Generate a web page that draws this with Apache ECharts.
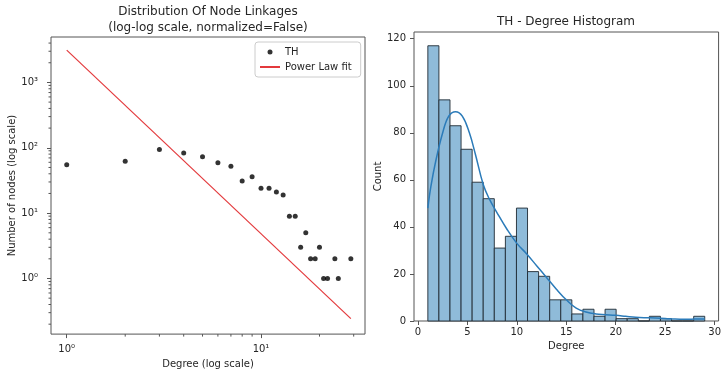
<!DOCTYPE html>
<html><head><meta charset="utf-8">
<script src="https://cdn.jsdelivr.net/npm/echarts@6/dist/echarts.min.js"></script>
<style>html,body{margin:0;padding:0;background:#fff}#c{width:724px;height:374px}</style>
</head><body><div id="c"></div>
<script>
// ---- data ----
const degrees    = [1,2,3,4,5,6,7,8,9,10,11,12,13,14,15,16,17,18,19,20,21,22,24,25,29];
const nodeCounts = [55,62,94,83,73,59,52,31,36,24,24,21,19,9,9,3,5,2,2,3,1,1,2,1,2];
const fitDegrees = [1, 29];
const fitCounts  = [3126, 0.243];
const histStart = 1;
const histBinWidth = 1.12;
const histCounts = [117,94,83,73,59,52,31,36,48,21,19,9,9,3,5,2,5,1,1,0,2,1,0,0,2];
const kdeX = [1,1.3,1.8,2.5,3.1,3.8,4.5,5.2,5.8,6.6,7.2,8,9,10,11,12,13,14,15,16,17,18,19,20,21,22,23,24,25,26,27,28,29];
const kdeY = [48,57,68,80,87,89,87,80,71,58,52,46,39,33,28.5,23.5,18.5,13.5,9,5.5,3.8,3,2.7,2.4,2,1.6,1.4,1.3,1.1,0.8,0.7,0.8,0.9];
const logXMajor = [1, 10];
const logXMinor = [2,3,4,5,6,7,8,9,20,30];
const logYMajor = [1, 10, 100, 1000];
const logYMinor = [0.2,0.3,0.4,0.5,0.6,0.7,0.8,0.9,2,3,4,5,6,7,8,9,20,30,40,50,60,70,80,90,200,300,400,500,600,700,800,900,2000,3000,4000];
const histXTicks = [0,5,10,15,20,25,30];
const histYTicks = [0,20,40,60,80,100,120];

// ---- layout ----
const lg = Math.log10;
const logXRange = [0.83, 34.3];
const logYRange = [0.141, 4955];
const histXRange = [-0.4, 30.4];
const histYRange = [0, 122.85];
const FONT = 'DejaVu Sans';
const TXT = '#262626';
const SPINE = '#555';
const sup = ['⁰','¹','²','³','⁴'];

const chart = echarts.init(document.getElementById('c'), null, {renderer: 'canvas'});
const tickLbl = {fontFamily: FONT, fontSize: 10, color: TXT};
const nameStyle = {fontFamily: FONT, fontSize: 10, color: TXT};
const noLine = {show: false, onZero: false};

chart.setOption({
  animation: false,
  backgroundColor: '#fff',
  title: [
    {text: 'Distribution Of Node Linkages\n(log-log scale, normalized=False)', left: 208, top: 4, padding: 0, textAlign: 'center',
     textStyle: {fontFamily: FONT, fontSize: 12, fontWeight: 'normal', lineHeight: 16, color: TXT}},
    {text: 'TH - Degree Histogram', left: 566, top: 15, padding: 0, textAlign: 'center',
     textStyle: {fontFamily: FONT, fontSize: 12, fontWeight: 'normal', lineHeight: 14, color: TXT}}
  ],
  legend: {
    data: [{name: 'TH'}, {name: 'Power Law fit', itemStyle: {opacity: 0}}], orient: 'vertical', left: 255, top: 42,
    itemWidth: 20, itemHeight: 5, itemGap: 3, padding: [4, 9, 4, 4],
    borderColor: '#ccc', borderWidth: 1, borderRadius: 3, backgroundColor: '#fff',
    textStyle: {fontFamily: FONT, fontSize: 10, lineHeight: 12, color: TXT}
  },
  grid: [
    {left: 51, top: 37, width: 314, height: 299, show: true, borderColor: SPINE, borderWidth: 1},
    {left: 414, top: 32, width: 305, height: 289, show: true, borderColor: SPINE, borderWidth: 1}
  ],
  xAxis: [
    {type: 'value', gridIndex: 0, position: 'bottom', min: lg(logXRange[0]), max: lg(logXRange[1]),
     axisLine: noLine, splitLine: {show: false},
     axisTick: {customValues: logXMajor.map(lg), length: 4, lineStyle: {color: SPINE}},
     axisLabel: {customValues: logXMajor.map(lg), margin: 10, ...tickLbl, formatter: v => '10' + sup[Math.round(v)]},
     name: 'Degree (log scale)', nameLocation: 'middle', nameGap: 24, nameTextStyle: nameStyle},
    {type: 'value', gridIndex: 1, position: 'bottom', min: histXRange[0], max: histXRange[1],
     axisLine: noLine, splitLine: {show: false},
     axisTick: {customValues: histXTicks, length: 4, lineStyle: {color: SPINE}},
     axisLabel: {customValues: histXTicks, margin: 6, ...tickLbl},
     name: 'Degree', nameLocation: 'middle', nameGap: 20, nameTextStyle: nameStyle}
  ],
  yAxis: [
    {type: 'value', gridIndex: 0, position: 'left', min: lg(logYRange[0]), max: lg(logYRange[1]),
     axisLine: noLine, splitLine: {show: false},
     axisTick: {customValues: logYMajor.map(lg), length: 4, lineStyle: {color: SPINE}},
     axisLabel: {customValues: logYMajor.map(lg), margin: 13, ...tickLbl, formatter: v => '10' + sup[Math.round(v)]},
     name: 'Number of nodes (log scale)', nameLocation: 'middle', nameGap: 34, nameTextStyle: nameStyle},
    {type: 'value', gridIndex: 1, position: 'left', min: histYRange[0], max: histYRange[1],
     axisLine: noLine, splitLine: {show: false},
     axisTick: {customValues: histYTicks, length: 4, lineStyle: {color: SPINE}},
     axisLabel: {customValues: histYTicks, margin: 8, ...tickLbl},
     name: 'Count', nameLocation: 'middle', nameGap: 31, nameTextStyle: nameStyle}
  ],
  series: [
    {name: 'TH', type: 'scatter', xAxisIndex: 0, yAxisIndex: 0, symbolSize: 5,
     itemStyle: {color: '#000'},
     data: degrees.map((d, i) => [lg(d), lg(nodeCounts[i])])},
    {name: 'Power Law fit', type: 'line', xAxisIndex: 0, yAxisIndex: 0, symbol: 'none',
     lineStyle: {color: '#e3393c', width: 1.2}, itemStyle: {color: '#e3393c'},
     data: fitDegrees.map((d, i) => [lg(d), lg(fitCounts[i])])},
    {name: 'xMinorTicks', type: 'custom', xAxisIndex: 0, yAxisIndex: 0, clip: false, silent: true,
     data: logXMinor.map(v => [lg(v), lg(logYRange[0])]),
     renderItem: (params, api) => {
       const p = api.coord([api.value(0), api.value(1)]);
       return {type: 'line', shape: {x1: p[0], y1: p[1], x2: p[0], y2: p[1] + 2.5}, style: {stroke: SPINE, lineWidth: 1}};
     }},
    {name: 'yMinorTicks', type: 'custom', xAxisIndex: 0, yAxisIndex: 0, clip: false, silent: true,
     data: logYMinor.map(v => [lg(logXRange[0]), lg(v)]),
     renderItem: (params, api) => {
       const p = api.coord([api.value(0), api.value(1)]);
       return {type: 'line', shape: {x1: p[0], y1: p[1], x2: p[0] - 2.5, y2: p[1]}, style: {stroke: SPINE, lineWidth: 1}};
     }},
    {name: 'hist', type: 'custom', xAxisIndex: 1, yAxisIndex: 1,
     encode: {x: [0, 1], y: 2},
     data: histCounts.map((c, i) => [histStart + i * histBinWidth, histStart + (i + 1) * histBinWidth, c]),
     renderItem: (params, api) => {
       const p0 = api.coord([api.value(0), api.value(2)]);
       const p1 = api.coord([api.value(1), 0]);
       return {type: 'rect', shape: {x: p0[0], y: p0[1], width: p1[0] - p0[0], height: p1[1] - p0[1]},
               style: {fill: '#8fbbd9', stroke: '#1f2a33', lineWidth: 0.9}};
     }},
    {name: 'kde', type: 'line', xAxisIndex: 1, yAxisIndex: 1, symbol: 'none', smooth: 0.4,
     lineStyle: {color: '#2b7bb9', width: 1.5},
     data: kdeX.map((x, i) => [x, kdeY[i]])}
  ]
});
</script></body></html>
